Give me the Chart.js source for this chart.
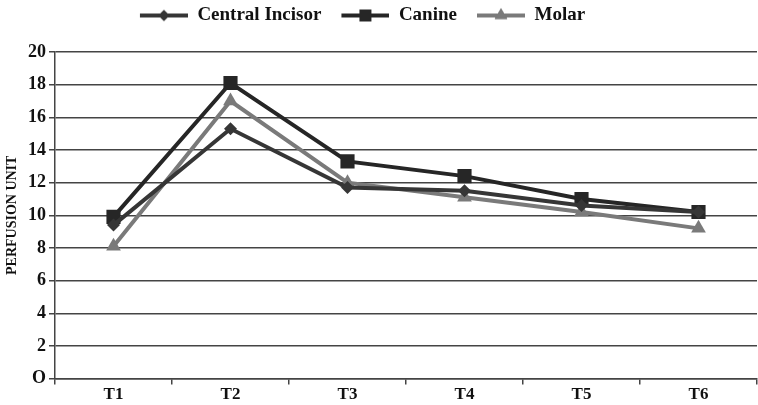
<!DOCTYPE html>
<html lang="en">
<head>
    <meta charset="UTF-8">
    <title>Perfusion unit</title>
    <script src="https://cdn.jsdelivr.net/npm/chart.js@4.4.0/dist/chart.umd.min.js"></script>
    <style>
        html, body { margin: 0; padding: 0; background: #fff; }
        #wrap { width: 758px; height: 405px; }
    </style>
</head>
<body>
    <div id="wrap"><canvas id="chart" width="758" height="405"></canvas></div>
    <script>
        // values
        const times = ['T1', 'T2', 'T3', 'T4', 'T5', 'T6'];
        const centralIncisor = [9.4, 15.3, 11.7, 11.5, 10.6, 10.2];
        const canine = [9.9, 18.1, 13.3, 12.4, 11.0, 10.2];
        const molar = [8.1, 17.0, 12.0, 11.1, 10.2, 9.2];

        const serif = "'Liberation Serif', 'Times New Roman', serif";

        // legend icon: a short line with the marker in the middle
        // (left part of the canvas is left blank as spacing between items)
        function legendIcon(color, style, r) {
            const c = document.createElement('canvas');
            c.width = 62;
            c.height = 20;
            const ctx = c.getContext('2d');
            ctx.strokeStyle = color;
            ctx.lineWidth = 4;
            ctx.beginPath();
            ctx.moveTo(14, 10);
            ctx.lineTo(62, 10);
            ctx.stroke();
            ctx.fillStyle = color;
            Chart.helpers.drawPoint(ctx, {pointStyle: style, radius: r, rotation: 0, borderWidth: 0}, 38, 10);
            ctx.fill();
            return c;
        }

        const series = [
            {label: 'Central Incisor', data: centralIncisor, color: '#363636', style: 'rectRot', r: 6.5},
            {label: 'Canine', data: canine, color: '#262626', style: 'rect', r: 10},
            {label: 'Molar', data: molar, color: '#7a7a7a', style: 'triangle', r: 8.5}
        ];

        // push the plot down below the legend, and nudge the legend a bit left
        const legendPush = {
            id: 'legendPush',
            beforeInit(chart) {
                const fit = chart.legend.fit;
                chart.legend.fit = function () {
                    fit.bind(chart.legend)();
                    this.height += 17;
                    if (this.lineWidths && this.lineWidths.length) this.lineWidths[0] += 46;
                };
            }
        };

        const ctx = document.getElementById('chart').getContext('2d');
        const myChart = new Chart(ctx, {
            type: 'line',
            data: {
                labels: times,
                datasets: series.map(s => ({
                    label: s.label,
                    data: s.data,
                    borderColor: s.color,
                    backgroundColor: s.color,
                    borderWidth: 4,
                    pointStyle: s.style,
                    pointRadius: s.r,
                    pointHoverRadius: s.r,
                    pointBorderWidth: 0,
                    tension: 0
                }))
            },
            options: {
                responsive: false,
                animation: false,
                layout: {autoPadding: false, padding: {left: 0, right: 1, top: 0, bottom: 0}},
                plugins: {
                    tooltip: {enabled: false},
                    legend: {
                        position: 'top',
                        labels: {
                            usePointStyle: true,
                            pointStyleWidth: 62,
                            padding: 6,
                            color: '#111',
                            font: {family: serif, size: 19, weight: 'bold'},
                            generateLabels(chart) {
                                const items = Chart.defaults.plugins.legend.labels.generateLabels(chart);
                                items.forEach((it, i) => {
                                    const s = series[i];
                                    it.pointStyle = legendIcon(s.color, s.style, s.r * 0.85);
                                });
                                return items;
                            }
                        }
                    }
                },
                scales: {
                    x: {
                        offset: true,
                        grid: {
                            offset: true,
                            drawOnChartArea: false,
                            drawTicks: true,
                            tickLength: 6,
                            color: '#444',
                            lineWidth: 1.5
                        },
                        border: {color: '#444', width: 1.5},
                        ticks: {
                            color: '#111',
                            padding: 0,
                            font: {family: serif, size: 17, weight: 'bold'}
                        }
                    },
                    y: {
                        min: 0,
                        max: 20,
                        afterFit(scale) { scale.width = 55; },
                        ticks: {
                            stepSize: 2,
                            color: '#111',
                            padding: 3,
                            font: {family: serif, size: 18, weight: 'bold'},
                            callback: v => (v === 0 ? 'O' : v)
                        },
                        grid: {
                            color: '#444',
                            lineWidth: 1.5,
                            tickLength: 6
                        },
                        border: {color: '#444', width: 1.5},
                        title: {
                            display: true,
                            text: 'PERFUSION UNIT',
                            color: '#111',
                            padding: {top: 4, bottom: 2},
                            font: {family: serif, size: 14, weight: 'bold'}
                        }
                    }
                }
            },
            plugins: [legendPush]
        });
    </script>
</body>
</html>
